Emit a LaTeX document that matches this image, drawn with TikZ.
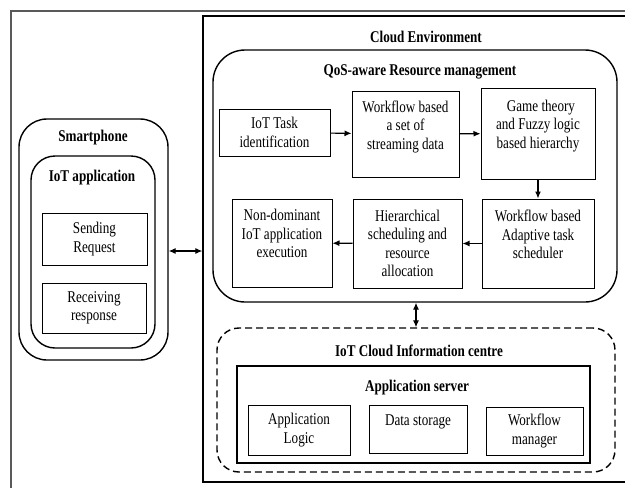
\documentclass[tikz,border=0pt]{standalone}
\usepackage{fontspec}
\setmainfont{Liberation Serif}[FakeStretch=0.8]
\usetikzlibrary{arrows.meta}

\begin{document}
\begin{tikzpicture}
  [x=1pt,y=-1pt,
   every node/.style={font=\fontsize{16.4}{18.5}\selectfont,align=center,inner sep=2pt},
   box/.style={draw,line width=1pt},
   rbox/.style={draw,line width=1.4pt,rounded corners=#1},
   rbox/.default=25pt,
   dbox/.style={draw,line width=1.4pt,rounded corners=22pt,dash pattern=on 7pt off 4pt},
   title/.style={font=\fontsize{16.4}{18.5}\selectfont\bfseries},
   link/.style={-{Latex[length=7pt,width=6pt]},line width=1.1pt},
   both/.style={{Latex[length=7pt,width=6pt]}-{Latex[length=7pt,width=6pt]},line width=1.1pt}]
  \useasboundingbox (0,0) rectangle (625,488);
  \clip (0,0) rectangle (625,488);
  \draw[line width=1.8pt,black!65] (11,11) rectangle (680,520);

  % smartphone side
  \node[rbox=28pt,minimum width=149pt,minimum height=241pt] (smart) at (93.5,239.5) {};
  \node[rbox=24pt,minimum width=124pt,minimum height=192pt] (iotapp) at (93,252) {};
  \node[title] (smarttitle) at (93,138) {Smartphone};
  \node[title] (apptitle) at (92,178) {IoT application};
  \node[box,minimum width=105pt,minimum height=52pt] (send) at (94.5,239) {Sending\\Request};
  \node[box,minimum width=104pt,minimum height=50pt] (recv) at (94,308) {Receiving\\response};

  % cloud side
  \node[draw,line width=1.3pt,minimum width=460pt,minimum height=466pt] (cloud) at (433,249) {};
  \node[title] (cloudtitle) at (426,37) {Cloud Environment};
  \node[rbox=32pt,minimum width=404pt,minimum height=252pt] (qos) at (415,176) {};
  \node[title] (qostitle) at (420,72) {QoS-aware Resource management};

  \node[box,minimum width=111pt,minimum height=47pt] (task) at (274.5,132.5) {IoT Task\\identification};
  \node[box,minimum width=107pt,minimum height=86pt] (stream) at (405.5,134) {Workflow based\\a set of\\streaming data\\\mbox{}};
  \node[box,minimum width=114pt,minimum height=91pt] (game) at (538,133.5) {\hspace{6pt}Game theory\\and Fuzzy logic\\based hierarchy\\\mbox{}};
  \node[box,minimum width=112pt,minimum height=89pt] (adapt) at (538,243.5) {Workflow based\\Adaptive task\\scheduler\\\mbox{}};
  \node[box,minimum width=109pt,minimum height=89pt] (hier) at (407.5,243.5) {Hierarchical\\scheduling and\\resource\\allocation};
  \node[box,minimum width=100pt,minimum height=88pt] (nondom) at (282,243) {Non-dominant\\IoT application\\execution\\\mbox{}};

  \draw[link] (task) -- (stream);
  \draw[link] (stream) -- (game);
  \draw[link] (game) -- (adapt);
  \draw[link] (adapt) -- (hier);
  \draw[link] (hier) -- (nondom);

  % information centre
  \node[dbox,minimum width=398pt,minimum height=144pt] (info) at (416,400) {};
  \node[title] (infotitle) at (419,351) {IoT Cloud Information centre};
  \node[draw,line width=2.2pt,minimum width=353pt,minimum height=97pt] (appsrv) at (413.5,414.5) {};
  \node[title] (srvtitle) at (417,388) {Application server};
  \node[box,minimum width=102pt,minimum height=50pt] (logic) at (299,430) {Application\\Logic};
  \node[box,minimum width=98pt,minimum height=48pt] (storage) at (418,429) {Data storage\\\mbox{}};
  \node[box,minimum width=97pt,minimum height=48pt] (wfman) at (534.5,431) {Workflow\\manager};

  \draw[both] ([yshift=-11.5pt]smart.east) -- ([yshift=-11.5pt]smart.east -| cloud.west);
  \draw[both] (qos.south -| info.north) -- (info.north);
\end{tikzpicture}
\end{document}
